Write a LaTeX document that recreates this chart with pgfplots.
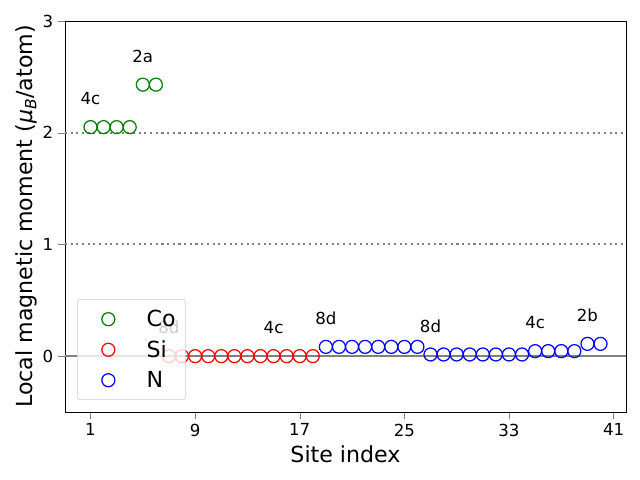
\documentclass[border=0pt]{standalone}
\usepackage{pgfplots}
\pgfplotsset{compat=1.18}
\usepackage{fontspec}
\setmainfont{DejaVu Sans}
\definecolor{mplgreen}{HTML}{008000}
\begin{document}
\begin{tikzpicture}
\begin{axis}[
  scale only axis, width=5.61in, height=3.91in,
  xmin=-0.95, xmax=41.95, ymin=-0.5, ymax=3,
  xtick={1,9,17,25,33,41}, ytick={0,1,2,3},
  tick align=outside, tick pos=left,
  major tick length=5pt,
  /pgf/number format/assume math mode=true,
  ticklabel style={font=\fontsize{12}{14}\selectfont},
  xlabel={Site index},
  ylabel={Local magnetic moment (\textit{μ\textsubscript{B}}/atom)},
  label style={font=\fontsize{16}{19}\selectfont},
  ylabel style={yshift=-3pt},
  legend image code/.code={\path (-15pt,0pt); \draw[#1] plot coordinates {(0pt,0pt)};},
  legend style={at={(0.0214,0.0307)}, anchor=south west,
    font=\fontsize{16}{19}\selectfont, row sep=4.6pt, column sep=23pt,
    inner xsep=7pt, inner ysep=5.5pt,
    draw=black!20, rounded corners=2pt, fill=white, fill opacity=0.8, text opacity=1,
    nodes={inner xsep=0pt}},
  legend cell align=left,
  clip=false,
]
\addplot[gray, line width=1.5pt, forget plot] coordinates {(-0.95,0) (41.95,0)};
\addplot[gray, dash pattern=on 1.5pt off 2.6pt, line width=1.5pt, forget plot] coordinates {(-0.95,1) (41.95,1)};
\addplot[gray, dash pattern=on 1.5pt off 2.6pt, line width=1.5pt, forget plot] coordinates {(-0.95,2) (41.95,2)};
\addplot[only marks, mark=o, mark size=4.7pt, mplgreen, line width=0.9pt] coordinates {
(1,2.05)(2,2.05)(3,2.05)(4,2.05)(5,2.43)(6,2.43)};
\addlegendentry{Co}
\addplot[only marks, mark=o, mark size=4.7pt, red, line width=0.9pt] coordinates {
(7,0)(8,0)(9,0)(10,0)(11,0)(12,0)(13,0)(14,0)(15,0)(16,0)(17,0)(18,0)};
\addlegendentry{Si}
\addplot[only marks, mark=o, mark size=4.7pt, blue, line width=0.9pt] coordinates {
(19,0.083)(20,0.083)(21,0.083)(22,0.083)(23,0.083)(24,0.083)(25,0.083)(26,0.083)
(27,0.015)(28,0.015)(29,0.015)(30,0.015)(31,0.015)(32,0.015)(33,0.015)(34,0.015)
(35,0.045)(36,0.045)(37,0.045)(38,0.045)(39,0.11)(40,0.11)};
\addlegendentry{N}
\begin{scope}[every node/.style={anchor=base, font=\fontsize{12}{14}\selectfont}]
\node at (axis cs:1,2.25) {4c};
\node at (axis cs:5,2.63) {2a};
\node at (axis cs:7,0.2) {8d};
\node at (axis cs:15,0.2) {4c};
\node at (axis cs:19,0.283) {8d};
\node at (axis cs:27,0.215) {8d};
\node at (axis cs:35,0.245) {4c};
\node at (axis cs:39,0.31) {2b};
\end{scope}
\end{axis}
\path (current axis.south west) ++(-0.65in,-0.68in) rectangle ++(6.4in,4.8in);
\end{tikzpicture}
\end{document}
